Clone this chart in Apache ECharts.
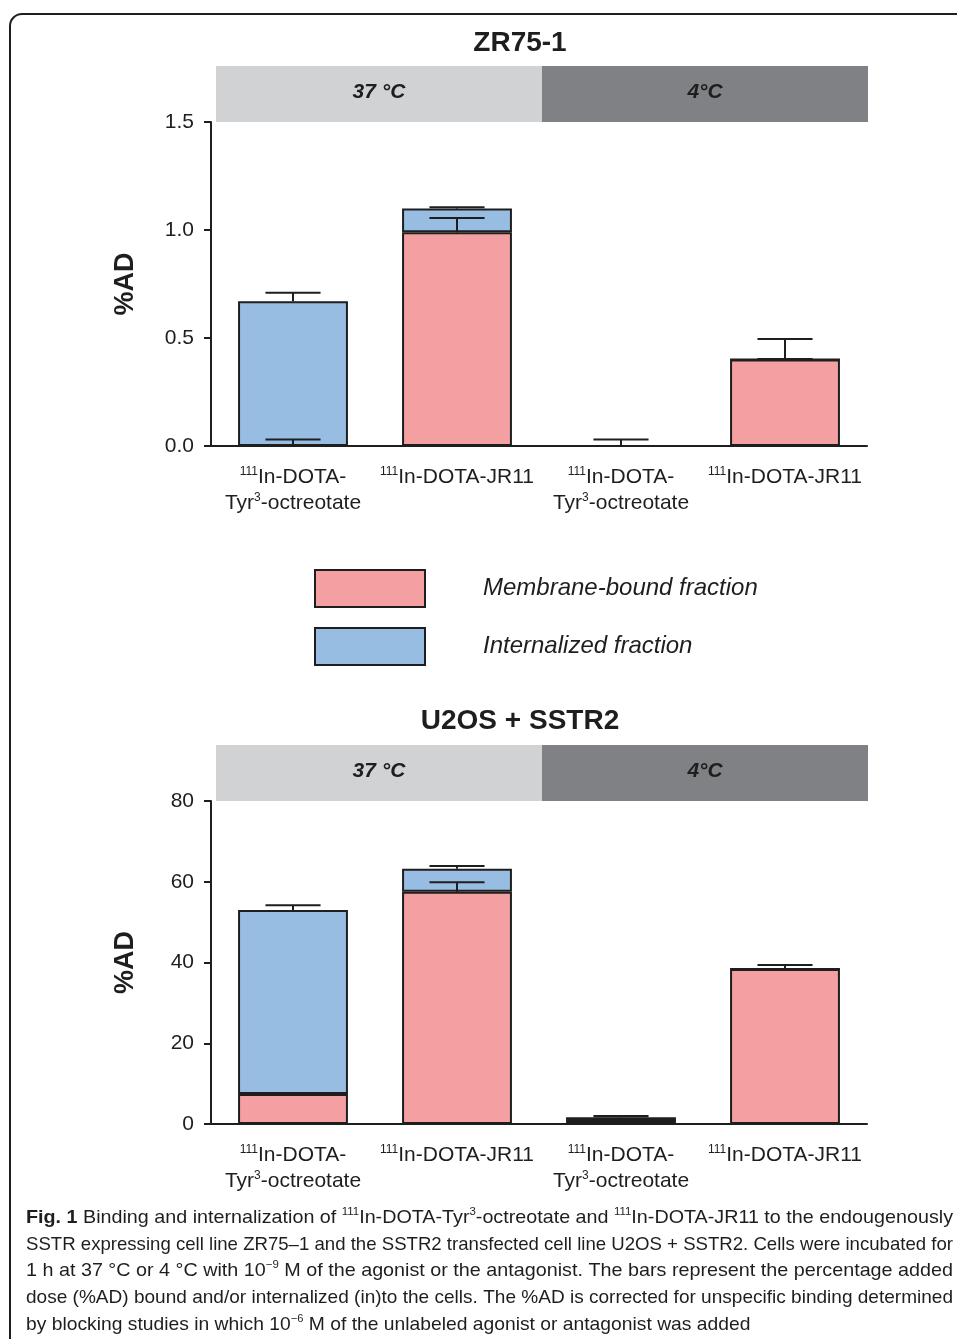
<!DOCTYPE html>
<html><head><meta charset="utf-8">
<script src="https://cdn.jsdelivr.net/npm/echarts@6/dist/echarts.min.js"></script>
<style>html,body{margin:0;padding:0;background:#fff}#c{width:957px;height:1339px}</style>
</head><body><div id="c"></div>
<script>
// ---------- data ----------
const categoryLabels = [
  '{sup|111}{n|In-DOTA-}\n{n|Tyr}{sup|3}{n|-octreotate}',
  '{sup|111}{n|In-DOTA-JR11}',
  '{sup|111}{n|In-DOTA-}\n{n|Tyr}{sup|3}{n|-octreotate}',
  '{sup|111}{n|In-DOTA-JR11}'
];
const seriesNames = ['Membrane-bound fraction', 'Internalized fraction'];
const temperatures = ['37 °C', '4°C'];
const chartTitles = ['ZR75-1', 'U2OS + SSTR2'];

const zrMembrane    = [0, 0.99, 0, 0.40];
const zrMembraneErr = [0.03, 0.065, 0.03, 0.095];
const zrInternal    = [0.67, 0.11, 0, 0];
const zrInternalErr = [0.04, 0.005, null, 0.003];

const u2Membrane    = [7.4, 57.5, 1.0, 38.4];
const u2MembraneErr = [0.15, 2.4, 0.3, 1.0];
const u2Internal    = [45.6, 5.7, 0.7, 0];
const u2InternalErr = [1.2, 0.7, 0.3, null];

const zrTicks = {min: 0, max: 1.5, interval: 0.5, decimals: 1};
const u2Ticks = {min: 0, max: 80, interval: 20, decimals: 0};

const captionLines = [
  [['b','Fig. 1'],['n',' Binding and internalization of '],['s','111'],['n','In-DOTA-Tyr'],['s','3'],['n','-octreotate and '],['s','111'],['n','In-DOTA-JR11 to the endougenously']],
  [['n','SSTR expressing cell line ZR75–1 and the SSTR2 transfected cell line U2OS + SSTR2. Cells were incubated for']],
  [['n','1 h at 37 °C or 4 °C with 10'],['s','−9'],['n',' M of the agonist or the antagonist. The bars represent the percentage added']],
  [['n','dose (%AD) bound and/or internalized (in)to the cells. The %AD is corrected for unspecific binding determined']],
  [['n','by blocking studies in which 10'],['s','−6'],['n',' M of the unlabeled agonist or antagonist was added']]
];

// ---------- styles ----------
const PINK = '#f49fa1', BLUE = '#98bde3', INK = '#1e1e1e';
const FONT = '"Liberation Sans", Arial, sans-serif';
const CAPFONT = '"Liberation Sans Narrow", "Liberation Sans", Arial, sans-serif';

function errData(mem, memErr, intl, intErr) {
  const out = [];
  for (let i = 0; i < mem.length; i++) {
    if (memErr[i] != null) out.push([i, mem[i], mem[i] + memErr[i]]);
    if (intErr[i] != null) { const t = mem[i] + intl[i]; out.push([i, t, t + intErr[i]]); }
  }
  return out;
}
function renderErr(params, api) {
  const x = api.value(0), lo = api.value(1), hi = api.value(2);
  const p0 = api.coord([x, lo]), p1 = api.coord([x, hi]);
  const half = api.size([1, 0])[0] * 0.168;
  const st = {stroke: INK, lineWidth: 2};
  return {type: 'group', children: [
    {type: 'line', shape: {x1: p0[0], y1: p0[1], x2: p1[0], y2: p1[1]}, style: st},
    {type: 'line', shape: {x1: p1[0] - half, y1: p1[1], x2: p1[0] + half, y2: p1[1]}, style: st}
  ]};
}

const labelRich = {
  n: {fontSize: 21, fontFamily: FONT, color: INK, lineHeight: 26, verticalAlign: 'bottom'},
  sup: {fontSize: 12, fontFamily: FONT, color: INK, lineHeight: 14, verticalAlign: 'top', padding: [4, 0, 0, 0]}
};

function xAxisDef(gi) {
  return {
    type: 'category', gridIndex: gi, data: categoryLabels,
    axisLine: {lineStyle: {color: INK, width: 2}},
    axisTick: {alignWithLabel: true, length: 9, lineStyle: {color: INK, width: 2}},
    axisLabel: {margin: 16, interval: 0, rich: labelRich, formatter: v => v, color: INK}
  };
}
function yAxisDef(gi, t) {
  return {
    type: 'value', gridIndex: gi, min: t.min, max: t.max, interval: t.interval,
    name: '%AD', nameLocation: 'middle', nameGap: 72, nameRotate: 90,
    nameTextStyle: {fontSize: 27, fontWeight: 'bold', fontFamily: FONT, color: INK},
    splitLine: {show: false},
    axisLine: {show: true, lineStyle: {color: INK, width: 2}},
    axisTick: {show: true, length: 7, lineStyle: {color: INK, width: 2}},
    axisLabel: {fontSize: 21, fontFamily: FONT, color: INK, margin: 17,
      formatter: v => v.toFixed(t.decimals)}
  };
}
function barSeries(name, data, color, gi) {
  return {
    name, type: 'bar', stack: 's' + gi, xAxisIndex: gi, yAxisIndex: gi, data,
    barWidth: '67%', itemStyle: {color, borderColor: INK, borderWidth: 2}, z: 2
  };
}
function errSeries(data, gi) {
  return {type: 'custom', xAxisIndex: gi, yAxisIndex: gi, data, renderItem: renderErr,
    encode: {x: 0, y: [1, 2]}, z: 5, silent: true};
}

// graphic: frame, titles, temperature bands
const graphic = [
  {type: 'rect', shape: {x: 10, y: 14, width: 980, height: 1360, r: 12},
   style: {fill: 'none', stroke: INK, lineWidth: 2}, z: 100}
];
const bandTops = [66, 745];
const titleY = [43, 721];
[0, 1].forEach(k => {
  graphic.push({type: 'text', x: 520, y: titleY[k],
    style: {text: chartTitles[k], fontSize: 28, fontWeight: 'bold', fontFamily: FONT,
      fill: INK, align: 'center', verticalAlign: 'middle'}});
  const cols = ['#d1d2d4', '#808184'];
  [0, 1].forEach(j => {
    graphic.push({type: 'rect', shape: {x: 216 + j * 326, y: bandTops[k], width: 326, height: 56},
      style: {fill: cols[j]}});
    graphic.push({type: 'text', x: 379 + j * 326, y: bandTops[k] + 26,
      style: {text: temperatures[j], fontSize: 21, fontWeight: 'bold', fontStyle: 'italic',
        fontFamily: FONT, fill: INK, align: 'center', verticalAlign: 'middle'}});
  });
});

// caption with justified lines
const cv = document.createElement('canvas').getContext('2d');
const capSizes = {b: 19, n: 19, s: 11};
function segFont(t) { return (t === 'b' ? 'bold ' : '') + capSizes[t] + 'px ' + CAPFONT; }
const capRich = {
  b: {fontSize: 19, fontWeight: 'bold', fontFamily: CAPFONT, fill: INK, lineHeight: 22, verticalAlign: 'bottom'},
  n: {fontSize: 19, fontFamily: CAPFONT, fill: INK, lineHeight: 22, verticalAlign: 'bottom'},
  s: {fontSize: 11, fontFamily: CAPFONT, fill: INK, lineHeight: 12, verticalAlign: 'top', padding: [1, 0, 0, 0]}
};
const capLeft = 26, capRight = 953, capY0 = 1216, capDY = 26.8;
let scales = [];
captionLines.forEach((segs, i) => {
  let w = 0;
  segs.forEach(([t, s]) => { cv.font = segFont(t); w += cv.measureText(s).width; });
  scales.push((capRight - capLeft) / w);
});
const avgScale = scales.slice(0, 4).reduce((a, b) => a + b, 0) / 4;
captionLines.forEach((segs, i) => {
  const text = segs.map(([t, s]) => '{' + t + '|' + s + '}').join('');
  graphic.push({type: 'text', x: capLeft, y: capY0 + i * capDY,
    scaleX: i < 4 ? scales[i] : avgScale,
    style: {text, rich: capRich, align: 'left', verticalAlign: 'middle', fill: INK}});
});

const option = {
  animation: false,
  backgroundColor: '#fff',
  grid: [
    {left: 211, top: 122, width: 656, height: 324},
    {left: 211, top: 801, width: 656, height: 323}
  ],
  legend: {
    data: seriesNames, orient: 'vertical', left: 314, top: 569, itemWidth: 110, itemHeight: 37,
    itemGap: 19, icon: 'rect', selectedMode: false, padding: 0,
    textStyle: {fontSize: 24, fontStyle: 'italic', fontFamily: FONT, color: INK, padding: [0, 0, 0, 53]}
  },
  xAxis: [xAxisDef(0), xAxisDef(1)],
  yAxis: [yAxisDef(0, zrTicks), yAxisDef(1, u2Ticks)],
  graphic,
  series: [
    barSeries(seriesNames[0], zrMembrane, PINK, 0),
    barSeries(seriesNames[1], zrInternal, BLUE, 0),
    errSeries(errData(zrMembrane, zrMembraneErr, zrInternal, zrInternalErr), 0),
    barSeries(seriesNames[0], u2Membrane, PINK, 1),
    barSeries(seriesNames[1], u2Internal, BLUE, 1),
    errSeries(errData(u2Membrane, u2MembraneErr, u2Internal, u2InternalErr), 1)
  ]
};
const chart = echarts.init(document.getElementById('c'), null, {renderer: 'canvas'});
chart.setOption(option);
</script></body></html>
